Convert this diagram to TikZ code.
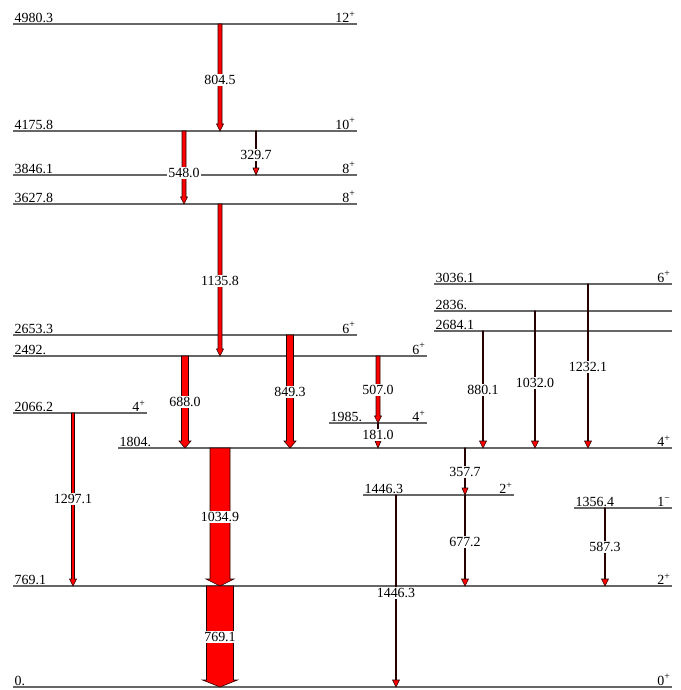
\documentclass[tikz,border=0pt]{standalone}
\usepackage{fontspec}
\setmainfont{Liberation Serif}
\usetikzlibrary{positioning}

\tikzset{
  level/.style={line width=1.2pt, draw=black!60},
  elabel/.style={above right, inner sep=1.5pt, font=\fontsize{14}{16}\selectfont},
  slabel/.style={above left, inner sep=1.5pt, font=\fontsize{14}{16}\selectfont},
  gamma/.style={fill=red, draw=black!85!red, line width=0.6pt},
  glabel/.style={fill=white, inner sep=1.2pt, font=\fontsize{14}{16}\selectfont}
}

% nivel: nome, x1, x2, y, energia, spin
\newcommand{\lvl}[6]{%
  \draw[level] (#2,#4) coordinate (#1a) -- (#3,#4) coordinate (#1b);
  \node[elabel] (#1e) at (#1a) {#5};
  \node[slabel] (#1s) at (#1b) {#6};
}
% transicao: nome, x, y1, y2, meia largura, meia ponta, y do texto, texto
\newcommand{\gam}[8]{%
  \filldraw[gamma] (#2-#5,#3) -- (#2+#5,#3) -- (#2+#5,#4-7) -- (#2+#6,#4-7)
    -- (#2,#4) -- (#2-#6,#4-7) -- (#2-#5,#4-7) -- cycle;
  \node[glabel] (#1) at (#2,#7) {#8};
}

\begin{document}
\begin{tikzpicture}[x=1bp, y=-1bp]
	\useasboundingbox (0,0) rectangle (681,690);

	% Niveis da banda fundamental
	\lvl{L4980}{13}{357}{24}{4980.3}{12\textsuperscript{+}}
	\lvl{L4176}{13}{357}{131}{4175.8}{10\textsuperscript{+}}
	\lvl{L3846}{13}{357}{175}{3846.1}{8\textsuperscript{+}}
	\lvl{L3628}{13}{357}{204}{3627.8}{8\textsuperscript{+}}
	\lvl{L2653}{13}{357}{335}{2653.3}{6\textsuperscript{+}}
	\lvl{L2492}{13}{427}{356}{2492.}{6\textsuperscript{+}}
	\lvl{L2066}{13}{147}{413}{2066.2}{4\textsuperscript{+}}
	\lvl{L1985}{329}{427}{423}{1985.}{4\textsuperscript{+}}
	\lvl{L1804}{118}{672}{448}{1804.}{4\textsuperscript{+}}
	\lvl{L769}{13}{672}{586}{769.1}{2\textsuperscript{+}}
	\lvl{L0}{13}{672}{687}{0.}{0\textsuperscript{+}}

	% Niveis a direita
	\lvl{L3036}{434}{672}{284}{3036.1}{6\textsuperscript{+}}
	\lvl{L2836}{434}{672}{311}{2836.}{}
	\lvl{L2684}{434}{672}{331}{2684.1}{}
	\lvl{L1446}{363}{514}{495}{1446.3}{2\textsuperscript{+}}
	\lvl{L1356}{574}{672}{508}{1356.4}{1\textsuperscript{−}}

	% Transicoes
	\gam{g804}{220}{24}{131}{2}{3.5}{80}{804.5}
	\gam{g548}{184}{131}{204}{2}{3.5}{173}{548.0}
	\gam{g330}{256}{131}{175}{0.5}{3}{155}{329.7}
	\gam{g1136}{220}{204}{356}{2}{3.5}{281}{1135.8}
	\gam{g688}{185}{356}{448}{3.5}{6}{402}{688.0}
	\gam{g849}{290}{335}{448}{3.5}{6}{392}{849.3}
	\gam{g507}{378}{356}{423}{2}{3.5}{390}{507.0}
	\gam{g181}{378}{423}{448}{0.5}{3}{435}{181.0}
	\gam{g880}{483}{331}{448}{0.5}{3.5}{390}{880.1}
	\gam{g1032}{535}{311}{448}{0.5}{3.5}{383}{1032.0}
	\gam{g1232}{588}{284}{448}{0.5}{3.5}{367}{1232.1}
	\gam{g1297}{73}{413}{586}{1.5}{3.5}{499}{1297.1}
	\gam{g1035}{220}{448}{586}{10}{14}{517}{1034.9}
	\gam{g769}{220}{586}{687}{13.5}{17.5}{637}{769.1}
	\gam{g358}{465}{448}{495}{0.5}{3}{472}{357.7}
	\gam{g677}{465}{495}{586}{0.5}{3.5}{542}{677.2}
	\gam{g1446}{396}{495}{687}{0.5}{3.5}{593}{1446.3}
	\gam{g587}{605}{508}{586}{0.5}{3.5}{547}{587.3}
\end{tikzpicture}
\end{document}
